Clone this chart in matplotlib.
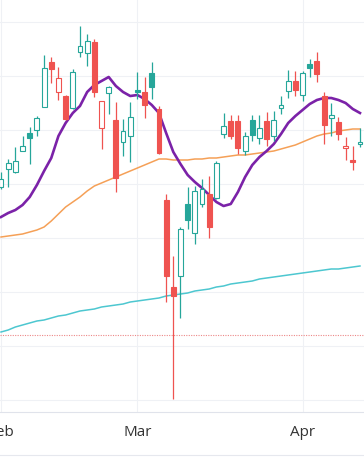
"""Candlestick chart with moving averages, Feb - Apr"""

import matplotlib.pyplot as plt
from matplotlib.lines import Line2D
import numpy as np

# daily prices (one trading day per entry)
opens = [41.2, 43.0, 42.7, 44.8, 46.6, 46.9, 49.2, 53.7, 50.7, 50.3,
         49.1, 54.7, 54.6, 55.7, 47.1, 50.6, 47.9, 45.7, 46.3, 50.9,
         50.7, 52.6, 49.0, 39.9, 31.2, 32.3, 39.5, 36.6, 39.5, 40.5,
         40.1, 46.5, 47.8, 47.8, 44.8, 47.9, 46.1, 47.8, 46.3, 49.1,
         50.8, 51.8, 50.4, 53.5, 53.8, 50.3, 48.1, 47.7, 45.1, 43.9, 45.5]
highs = [42.7, 44.0, 45.2, 46.3, 47.2, 48.3, 54.4, 54.2, 53.2, 50.4,
         53.0, 57.3, 56.5, 56.0, 49.8, 51.3, 49.7, 48.0, 49.7, 52.7,
         52.2, 53.7, 49.3, 40.5, 34.3, 37.2, 41.2, 41.3, 42.0, 42.3,
         43.8, 48.6, 48.4, 48.4, 46.7, 48.4, 48.4, 48.7, 48.8, 50.3,
         52.9, 52.8, 52.8, 54.0, 54.7, 50.7, 49.6, 48.2, 46.2, 45.3, 47.1]
lows = [41.0, 41.2, 42.6, 44.8, 43.5, 46.3, 49.2, 51.6, 49.9, 47.9,
        49.0, 54.2, 53.3, 50.2, 45.0, 48.5, 40.7, 44.3, 43.7, 50.0,
        48.1, 50.0, 44.5, 29.7, 20.0, 28.1, 37.0, 35.5, 39.2, 36.1,
        40.0, 46.1, 46.0, 44.5, 44.4, 45.8, 45.5, 45.3, 45.8, 48.5,
        50.1, 50.3, 49.8, 52.2, 51.7, 45.5, 46.3, 45.9, 43.9, 42.9, 45.2]
closes = [42.0, 43.6, 43.8, 45.3, 46.1, 48.1, 53.1, 53.0, 52.1, 48.0,
          52.7, 55.3, 55.8, 50.7, 49.8, 51.2, 42.1, 46.8, 48.2, 50.7,
          49.4, 51.2, 44.6, 32.3, 30.3, 37.0, 37.9, 40.8, 41.0, 37.2,
          43.6, 47.3, 46.3, 45.1, 46.3, 46.4, 47.1, 46.0, 47.9, 49.4,
          51.8, 50.9, 52.6, 53.1, 52.5, 47.4, 48.4, 46.5, 45.3, 43.7, 45.7]

# moving averages
ma_fast = [38.2, 38.6, 38.9, 39.4, 40.2, 41.4, 42.8, 44.1, 46.3, 47.6,
           48.6, 49.3, 50.7, 51.4, 51.8, 52.2, 51.3, 50.7, 50.3, 50.4,
           50.0, 49.4, 48.6, 46.6, 44.7, 43.5, 42.4, 41.7, 41.1, 40.4,
           39.7, 39.3, 39.5, 40.7, 42.2, 43.4, 44.2, 44.8, 45.5, 46.5,
           47.6, 48.3, 48.9, 49.5, 49.9, 50.1, 50.1, 49.9, 49.6, 49.0, 48.6]
ma_mid = [36.2, 36.3, 36.4, 36.5, 36.7, 36.9, 37.2, 37.8, 38.5, 39.2,
          39.7, 40.2, 40.8, 41.3, 41.6, 41.9, 42.2, 42.5, 42.8, 43.1,
          43.4, 43.7, 44.0, 44.0, 43.9, 43.9, 43.9, 44.0, 44.0, 44.1,
          44.1, 44.2, 44.3, 44.4, 44.4, 44.5, 44.6, 44.7, 44.8, 45.0,
          45.2, 45.4, 45.7, 46.0, 46.3, 46.5, 46.6, 46.8, 46.9, 47.0, 47.0]
ma_slow = [26.7, 26.9, 27.2, 27.4, 27.6, 27.8, 27.9, 28.1, 28.3, 28.4,
           28.6, 28.8, 28.9, 29.0, 29.2, 29.3, 29.4, 29.5, 29.7, 29.8,
           29.9, 30.0, 30.1, 30.3, 30.4, 30.5, 30.6, 30.8, 30.9, 31.0,
           31.2, 31.3, 31.5, 31.6, 31.7, 31.8, 32.0, 32.1, 32.2, 32.3,
           32.4, 32.5, 32.6, 32.7, 32.8, 32.9, 33.0, 33.0, 33.1, 33.2, 33.3]

price_line = 26.4
month_pos = [0, 19, 42]
month_names = ["Feb", "Mar", "Apr"]

UP = "#26a69a"
DOWN = "#ef5350"


def candle_colors(o, c):
    "colour by change vs previous close, hollow when close > open"
    cols, hollow = [], []
    for i in range(len(c)):
        if i == 0 or c[i] >= c[i - 1]:
            cols.append(UP)
        else:
            cols.append(DOWN)
        hollow.append(c[i] > o[i])
    return cols, hollow


def main():
    plt.rcParams['font.family'] = ['Open Sans', 'DejaVu Sans']
    fig = plt.figure(figsize=(3.64, 4.6), dpi=100)
    ax = fig.add_axes([0, 47 / 460, 1, 413 / 460])

    x = np.arange(len(closes))
    o = np.array(opens)
    c = np.array(closes)
    cols, hollow = candle_colors(opens, closes)

    # grid
    ax.set_yticks(np.arange(19.9, 60, 5.4))
    ax.set_xticks(month_pos)
    ax.set_xticklabels(month_names)
    ax.grid(True, color="#eff1f5", lw=0.8)
    ax.set_axisbelow(True)

    # moving averages
    ax.plot(x, ma_slow, color="#4dc7d0", lw=1.1, zorder=2)
    ax.plot(x, ma_mid, color="#f5a057", lw=1.1, zorder=2)
    ax.plot(x, ma_fast, color="#7b22a8", lw=1.9, zorder=2)
    ax.axhline(price_line, color="#e86a6a", lw=0.8, ls=(0, (1, 1.2)), alpha=0.8, zorder=1)

    # candles
    ax.vlines(x, lows, highs, colors=cols, lw=0.9, zorder=3)
    bottoms = np.minimum(o, c)
    heights = np.maximum(np.abs(c - o), 0.15)
    for i in range(len(x)):
        face = "white" if hollow[i] else cols[i]
        ax.bar(x[i], heights[i], bottom=bottoms[i], width=0.68,
               facecolor=face, edgecolor=cols[i], lw=0.8, zorder=4)

    ax.set_xlim(-0.14, 50.56)
    ax.set_ylim(18.7, 60)
    for s in ["top", "left", "right"]:
        ax.spines[s].set_visible(False)
    ax.spines["bottom"].set_color("#e0e3eb")
    ax.tick_params(axis="both", length=0)
    ax.tick_params(axis="x", pad=8.5, labelsize=11, labelcolor="#333333")
    ax.set_yticklabels([])

    fig.add_artist(Line2D([0, 1], [4 / 460, 4 / 460], color="#e6e8ee", lw=0.8))

    plt.savefig("out.png", dpi=100)


if __name__ == "__main__":
    main()
